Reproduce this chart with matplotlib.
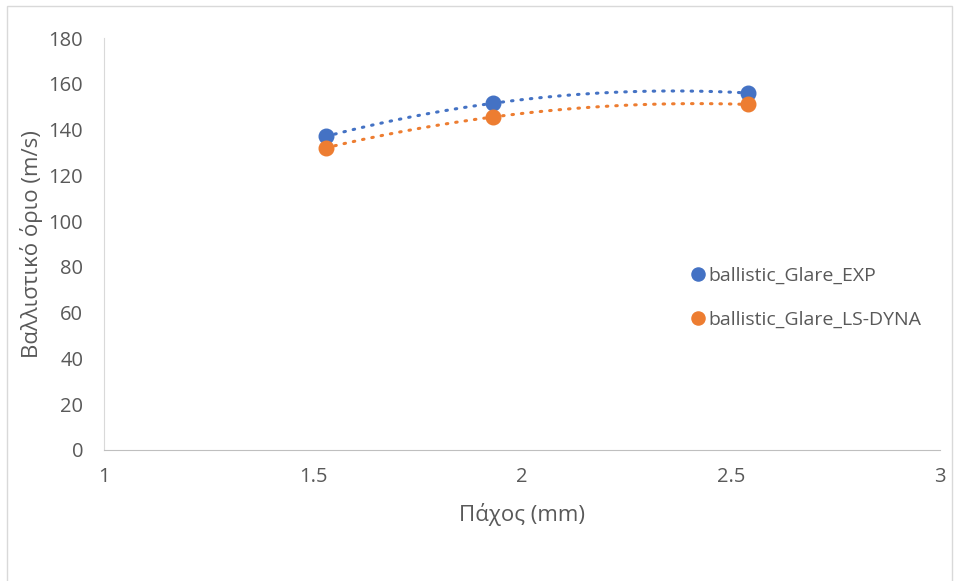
import numpy as np
from matplotlib import pyplot as plt
from matplotlib.patches import Rectangle

plt.rcParams['font.family'] = ['Open Sans', 'DejaVu Sans']

thickness = [1.53, 1.93, 2.54]
v_exp = [137, 151.5, 156]
v_dyna = [132, 145.5, 151]
labels = ['ballistic_Glare_EXP', 'ballistic_Glare_LS-DYNA']
colors = ['#4472C4', '#ED7D31']

fig = plt.figure(figsize=(9.58, 5.81), dpi=100)
fig.patches.append(Rectangle((0.007, -0.01), 0.987, 1.0, transform=fig.transFigure,
                             fill=False, edgecolor='#D9D9D9', lw=1))
ax = fig.add_axes([0.1086, 0.2255, 0.8726, 0.709])

for ys, c, lab in zip([v_exp, v_dyna], colors, labels):
    # excel style 2nd order polynomial trendline
    p = np.polyfit(thickness, ys, 2)
    xx = np.linspace(thickness[0], thickness[-1], 200)
    ax.plot(xx, np.polyval(p, xx), color=c, lw=2.2, linestyle=(0, (0.5, 2.6)),
            dash_capstyle='round')
    ax.plot(thickness, ys, 'o', color=c, ms=10.5, label=lab)

ax.set_xlim(1, 3)
ax.set_ylim(0, 180)
ax.set_xticks([1, 1.5, 2, 2.5, 3])
ax.set_xticklabels(['1', '1.5', '2', '2.5', '3'])
ax.set_yticks(range(0, 181, 20))
ax.tick_params(length=0, labelsize=14.5, labelcolor='#595959')
ax.tick_params(axis='x', pad=12)
ax.tick_params(axis='y', pad=15)
for s in ['top', 'right']:
    ax.spines[s].set_visible(False)
ax.spines['left'].set_color('#D9D9D9')
ax.spines['bottom'].set_color('#BFBFBF')

ax.set_xlabel('Πάχος (mm)', fontsize=16, color='#595959', labelpad=12)
ax.set_ylabel('Βαλλιστικό όριο (m/s)', fontsize=16, color='#595959', labelpad=4)

ax.legend(loc='center left', bbox_to_anchor=(0.701, 0.37), frameon=False,
          borderaxespad=0, borderpad=0,
          fontsize=14, labelcolor='#595959', handletextpad=0.15,
          labelspacing=1.35, handlelength=0.8, markerscale=0.9)

fig.savefig('out.png')
